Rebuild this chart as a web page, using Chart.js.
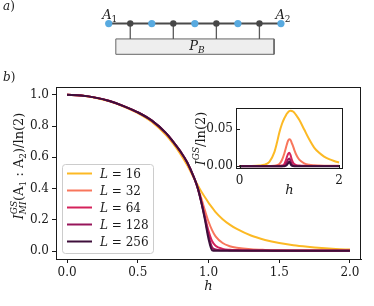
<!DOCTYPE html>
<html>
<head>
<meta charset="utf-8">
<script src="https://cdn.jsdelivr.net/npm/chart.js@4/dist/chart.umd.min.js"></script>
<style>
  html, body { margin: 0; padding: 0; background: #fff; }
  #wrap { position: relative; width: 374px; height: 306px; overflow: hidden; }
  canvas { position: absolute; }
</style>
</head>
<body>
<div id="wrap">
  <canvas id="main" width="374" height="306" style="left:0;top:0"></canvas>
  <canvas id="sketch" width="374" height="66" style="left:0;top:0"></canvas>
  <canvas id="inset" width="172" height="104" style="left:190px;top:96px"></canvas>
</div>
<script>
// ---- panel a) chain sketch ----
const sites = [0, 1, 2, 3, 4, 5, 6, 7, 8]
const coupledSites = [1, 3, 5, 7]
const bathX = [0.33, 7.68]
const bathY = [-1, -2]

// ---- panel b) main plot ----
const systemSizes = [16, 32, 64, 128, 256]
const hMain = [0, 0.1, 0.2, 0.3, 0.4, 0.5, 0.6, 0.7, 0.75, 0.8, 0.85, 0.9, 0.925, 0.95, 0.975, 1.0,
  1.025, 1.05, 1.1, 1.15, 1.2, 1.3, 1.4, 1.5, 1.6, 1.7, 1.8, 1.9, 2.0]
const miL16 = [1.0, 0.995, 0.981, 0.958, 0.925, 0.883, 0.826, 0.742, 0.687, 0.624, 0.55, 0.462, 0.42, 0.38, 0.345, 0.31,
  0.28, 0.25, 0.205, 0.17, 0.142, 0.1, 0.072, 0.052, 0.038, 0.028, 0.02, 0.014, 0.01]
const miL32 = [1.0, 0.995, 0.982, 0.96, 0.927, 0.887, 0.833, 0.752, 0.697, 0.636, 0.563, 0.462, 0.405, 0.335, 0.26, 0.19,
  0.135, 0.095, 0.052, 0.032, 0.022, 0.012, 0.008, 0.006, 0.005, 0.005, 0.004, 0.004, 0.004]
const miL64 = [1.0, 0.995, 0.982, 0.96, 0.928, 0.888, 0.835, 0.755, 0.70, 0.64, 0.567, 0.465, 0.40, 0.315, 0.22, 0.13,
  0.065, 0.035, 0.015, 0.009, 0.007, 0.005, 0.004, 0.004, 0.004, 0.004, 0.004, 0.004, 0.004]
const miL128 = [1.0, 0.995, 0.982, 0.96, 0.928, 0.888, 0.835, 0.755, 0.70, 0.64, 0.567, 0.465, 0.40, 0.31, 0.21, 0.10,
  0.025, 0.011, 0.006, 0.005, 0.004, 0.004, 0.004, 0.003, 0.003, 0.003, 0.003, 0.003, 0.003]
const miL256 = [1.0, 0.995, 0.982, 0.96, 0.928, 0.888, 0.835, 0.755, 0.70, 0.64, 0.567, 0.465, 0.40, 0.31, 0.20, 0.08,
  0.006, 0.003, 0.003, 0.003, 0.003, 0.003, 0.003, 0.003, 0.003, 0.003, 0.003, 0.003, 0.003]
const mainXTicks = [0, 0.5, 1.0, 1.5, 2.0]
const mainYTicks = [0, 0.2, 0.4, 0.6, 0.8, 1.0]

// ---- inset ----
const hInset = [0, 0.2, 0.4, 0.5, 0.6, 0.7, 0.75, 0.8, 0.85, 0.9, 0.925, 0.95, 0.975, 1.0, 1.025, 1.05, 1.075, 1.1,
  1.15, 1.2, 1.3, 1.4, 1.5, 1.6, 1.7, 1.8, 1.9, 2.0]
const gsL16 = [0.0004, 0.0005, 0.001, 0.002, 0.006, 0.019, 0.031, 0.045, 0.056, 0.064, 0.067, 0.070, 0.072, 0.0735,
  0.074, 0.0738, 0.073, 0.0715, 0.067, 0.062, 0.049, 0.036, 0.025, 0.018, 0.013, 0.0095, 0.007, 0.005]
const gsL32 = [0.0004, 0.0004, 0.0004, 0.0004, 0.0005, 0.0008, 0.0015, 0.003, 0.008, 0.017, 0.023, 0.029, 0.034, 0.036,
  0.035, 0.031, 0.027, 0.022, 0.014, 0.009, 0.004, 0.002, 0.0013, 0.001, 0.0008, 0.0007, 0.0006, 0.0006]
const gsL64 = [0.0003, 0.0003, 0.0003, 0.0003, 0.0003, 0.0004, 0.0005, 0.0007, 0.001, 0.003, 0.007, 0.012, 0.0165, 0.018,
  0.015, 0.009, 0.005, 0.003, 0.0015, 0.001, 0.0006, 0.0005, 0.0004, 0.0004, 0.0004, 0.0004, 0.0004, 0.0004]
const gsL128 = [0.0002, 0.0002, 0.0002, 0.0002, 0.0002, 0.0002, 0.0002, 0.0002, 0.0002, 0.0008, 0.002, 0.005, 0.009, 0.0105,
  0.007, 0.003, 0.0012, 0.0007, 0.0004, 0.0003, 0.0003, 0.0003, 0.0003, 0.0003, 0.0003, 0.0003, 0.0003, 0.0003]
const gsL256 = [0.0002, 0.0002, 0.0002, 0.0002, 0.0002, 0.0002, 0.0002, 0.0002, 0.0002, 0.0002, 0.0005, 0.0015, 0.004, 0.006,
  0.003, 0.0008, 0.0003, 0.0002, 0.0002, 0.0002, 0.0002, 0.0002, 0.0002, 0.0002, 0.0002, 0.0002, 0.0002, 0.0002]
const insetXTicks = [0, 2]
const insetYTicks = [0, 0.05]

const mainSeries = [miL16, miL32, miL64, miL128, miL256]
const insetSeries = [gsL16, gsL32, gsL64, gsL128, gsL256]
const lineColors = ["#fcb924", "#f8765c", "#d4225b", "#97155a", "#3e0f3b"]

const SERIF = '"DejaVu Serif", serif'
const INK = "#1a1a1a"

function font(size, italic) {
  return (italic ? "italic " : "") + size + "px " + SERIF
}

function toPoints(xs, ys) {
  return xs.map((x, i) => ({ x: x, y: ys[i] }))
}

// tiny math-ish text: parts are {t, it, size, dy} or {sup, sub, size, up, down}
function partWidth(ctx, p) {
  if (p.sup !== undefined) {
    ctx.font = font(p.size, true)
    return Math.max(ctx.measureText(p.sup).width, ctx.measureText(p.sub || "").width)
  }
  ctx.font = font(p.size, p.it)
  return ctx.measureText(p.t).width
}

function drawMath(ctx, parts, x, y, align) {
  const widths = parts.map(p => partWidth(ctx, p))
  const total = widths.reduce((a, b) => a + b, 0)
  let cx = align === "center" ? x - total / 2 : align === "right" ? x - total : x
  ctx.textAlign = "left"
  ctx.textBaseline = "alphabetic"
  parts.forEach((p, i) => {
    if (p.sup !== undefined) {
      ctx.font = font(p.size, true)
      ctx.fillText(p.sup, cx, y - p.up)
      if (p.sub) ctx.fillText(p.sub, cx, y + p.down)
    } else {
      ctx.font = font(p.size, p.it)
      ctx.fillText(p.t, cx, y + (p.dy || 0))
    }
    cx += widths[i]
  })
}

function fixedTicks(values) {
  return scale => { scale.ticks = values.map(v => ({ value: v })) }
}

// ---------------- sketch ----------------
const sketchText = {
  id: "sketchText",
  afterDatasetsDraw(chart) {
    const { ctx, scales: { x, y } } = chart
    ctx.save()
    ctx.fillStyle = INK
    const chainY = y.getPixelForValue(0)
    drawMath(ctx, [{ t: "A", it: true, size: 13 }, { t: "1", size: 9, dy: 3 }],
      x.getPixelForValue(sites[0]) + 1, chainY - 5, "center")
    drawMath(ctx, [{ t: "A", it: true, size: 13 }, { t: "2", size: 9, dy: 3 }],
      x.getPixelForValue(sites[sites.length - 1]) + 2, chainY - 5, "center")
    const bx = x.getPixelForValue((bathX[0] + bathX[1]) / 2)
    const by = y.getPixelForValue((bathY[0] + bathY[1]) / 2)
    drawMath(ctx, [{ t: "P", it: true, size: 13 }, { t: "B", it: true, size: 9, dy: 3 }], bx + 2, by + 3, "center")
    drawMath(ctx, [{ t: "a", it: true, size: 12 }, { t: ")", size: 12 }], 3, 10, "left")
    ctx.restore()
  }
}

const legY = bathY[0]
new Chart(document.getElementById("sketch"), {
  type: "scatter",
  data: {
    datasets: [
      {
        data: sites.filter(s => !coupledSites.includes(s)).map(s => ({ x: s, y: 0 })),
        pointRadius: 3.6, backgroundColor: "#58aae0", borderWidth: 0
      },
      {
        data: coupledSites.map(s => ({ x: s, y: 0 })),
        pointRadius: 3.2, backgroundColor: "#474747", borderWidth: 0
      },
      {
        data: sites.map(s => ({ x: s, y: 0 })),
        showLine: true, borderColor: "#4a4a4a", borderWidth: 2, pointRadius: 0
      },
      {
        data: coupledSites.flatMap(s => [{ x: s, y: 0 }, { x: s, y: legY }, { x: s, y: null }]),
        showLine: true, spanGaps: false, borderColor: "#5a5a5a", borderWidth: 1.3, pointRadius: 0
      },
      {
        data: [
          { x: bathX[0], y: bathY[0] }, { x: bathX[1], y: bathY[0] }, { x: bathX[1], y: bathY[1] },
          { x: bathX[0], y: bathY[1] }, { x: bathX[0], y: bathY[0] }
        ],
        showLine: true, fill: "shape", backgroundColor: "#eeeeee", borderColor: "#666666",
        borderWidth: 1, pointRadius: 0
      }
    ]
  },
  options: {
    responsive: false,
    animation: false,
    layout: { padding: 0 },
    plugins: { legend: { display: false }, tooltip: { enabled: false } },
    scales: {
      x: { type: "linear", display: false, min: -4.864, max: 12.136 },
      y: { type: "linear", display: false, min: -2.5, max: 1.27 }
    }
  },
  plugins: [sketchText]
})

// ---------------- main plot ----------------
const mainDecor = {
  id: "mainDecor",
  afterDraw(chart) {
    const { ctx, chartArea: a } = chart
    ctx.save()
    // full frame
    ctx.strokeStyle = INK
    ctx.lineWidth = 1
    ctx.strokeRect(Math.round(a.left) + 0.5, Math.round(a.top) + 0.5,
      Math.round(a.right - a.left) - 1, Math.round(a.bottom - a.top))

    // legend box (lower left, inside axes)
    const lx = a.left + 6, rowH = 17, boxW = 91, boxH = 89
    const ly = a.bottom - 6 - boxH
    ctx.fillStyle = "rgba(255,255,255,0.85)"
    ctx.strokeStyle = "#cccccc"
    ctx.beginPath()
    ctx.roundRect(lx + 0.5, ly + 0.5, boxW, boxH, 3)
    ctx.fill()
    ctx.stroke()
    chart.data.datasets.forEach((ds, i) => {
      const ry = ly + 9.5 + i * rowH
      ctx.strokeStyle = ds.borderColor
      ctx.lineWidth = 2
      ctx.beginPath()
      ctx.moveTo(lx + 5, ry)
      ctx.lineTo(lx + 30, ry)
      ctx.stroke()
      ctx.fillStyle = INK
      drawMath(ctx, [{ t: "L", it: true, size: 12 }, { t: " = " + systemSizes[i], size: 12 }], lx + 38, ry + 4.5, "left")
    })

    // axis labels
    ctx.fillStyle = INK
    drawMath(ctx, [{ t: "h", it: true, size: 13 }], (a.left + a.right) / 2, 290, "center")
    ctx.save()
    ctx.translate(19, 166)
    ctx.rotate(-Math.PI / 2)
    drawMath(ctx, [
      { t: "I", it: true, size: 13 },
      { sup: "GS", sub: "MI", size: 9, up: 6, down: 3 },
      { t: "(A", size: 13 },
      { t: "1", size: 9, dy: 3 },
      { t: " : A", size: 13 },
      { t: "2", size: 9, dy: 3 },
      { t: ")/ln(2)", size: 13 }
    ], 0, 4, "center")
    ctx.restore()

    drawMath(ctx, [{ t: "b", it: true, size: 12 }, { t: ")", size: 12 }], 3, 81, "left")
    ctx.restore()
  }
}

new Chart(document.getElementById("main"), {
  type: "line",
  data: {
    datasets: systemSizes.map((L, i) => ({
      label: "L = " + L,
      data: toPoints(hMain, mainSeries[i]),
      borderColor: lineColors[i],
      borderWidth: 2,
      pointRadius: 0,
      cubicInterpolationMode: "monotone",
      order: systemSizes.length - i
    }))
  },
  options: {
    responsive: false,
    animation: false,
    layout: { padding: { top: 87, right: 13, left: 0, bottom: 0 } },
    plugins: { legend: { display: false }, tooltip: { enabled: false } },
    scales: {
      x: {
        type: "linear",
        min: -0.078,
        max: 2.078,
        afterBuildTicks: fixedTicks(mainXTicks),
        afterFit: s => { s.height = 47 },
        ticks: {
          callback: v => v.toFixed(1), padding: 3, color: INK, maxRotation: 0, autoSkip: false,
          font: { family: SERIF, size: 12 }
        },
        grid: { drawOnChartArea: false, tickLength: 4, color: INK },
        border: { color: INK }
      },
      y: {
        type: "linear",
        min: -0.05,
        max: 1.05,
        afterBuildTicks: fixedTicks(mainYTicks),
        afterFit: s => { s.width = 56 },
        ticks: {
          callback: v => v.toFixed(1), padding: 3, color: INK, autoSkip: false,
          font: { family: SERIF, size: 12 }
        },
        grid: { drawOnChartArea: false, tickLength: 4, color: INK },
        border: { color: INK }
      }
    }
  },
  plugins: [mainDecor]
})

// ---------------- inset ----------------
const insetDecor = {
  id: "insetDecor",
  beforeDatasetsDraw(chart) {
    const { ctx, chartArea: a } = chart
    ctx.save()
    ctx.fillStyle = "#ffffff"
    ctx.fillRect(a.left, a.top, a.right - a.left, a.bottom - a.top)
    ctx.restore()
  },
  afterDraw(chart) {
    const { ctx, chartArea: a, scales: { x, y } } = chart
    ctx.save()
    ctx.strokeStyle = INK
    ctx.lineWidth = 1
    ctx.strokeRect(Math.round(a.left) + 0.5, Math.round(a.top) + 0.5,
      Math.round(a.right - a.left) - 1, Math.round(a.bottom - a.top) - 1)
    // inward ticks
    ctx.beginPath()
    x.ticks.forEach(t => {
      const px = Math.round(x.getPixelForValue(t.value)) + 0.5
      ctx.moveTo(px, a.bottom)
      ctx.lineTo(px, a.bottom - 4)
    })
    y.ticks.forEach(t => {
      const py = Math.round(y.getPixelForValue(t.value)) + 0.5
      ctx.moveTo(a.left, py)
      ctx.lineTo(a.left + 4, py)
    })
    ctx.stroke()

    ctx.fillStyle = INK
    drawMath(ctx, [{ t: "h", it: true, size: 13 }], (a.left + a.right) / 2, 98, "center")
    ctx.save()
    ctx.translate(11, (a.top + a.bottom) / 2)
    ctx.rotate(-Math.PI / 2)
    drawMath(ctx, [
      { t: "I", it: true, size: 13 },
      { sup: "GS", size: 9, up: 6 },
      { t: "/ln(2)", size: 13 }
    ], 0, 4, "center")
    ctx.restore()
    ctx.restore()
  }
}

new Chart(document.getElementById("inset"), {
  type: "line",
  data: {
    datasets: systemSizes.map((L, i) => ({
      label: "L = " + L,
      data: toPoints(hInset, insetSeries[i]),
      borderColor: lineColors[i],
      borderWidth: 2,
      pointRadius: 0,
      cubicInterpolationMode: "monotone",
      order: systemSizes.length - i
    }))
  },
  options: {
    responsive: false,
    animation: false,
    layout: { padding: { top: 12, right: 19, left: 0, bottom: 0 } },
    plugins: { legend: { display: false }, tooltip: { enabled: false } },
    scales: {
      x: {
        type: "linear",
        min: -0.072,
        max: 2.08,
        afterBuildTicks: fixedTicks(insetXTicks),
        afterFit: s => { s.height = 31 },
        ticks: {
          callback: v => v.toFixed(0), padding: 5, color: INK, maxRotation: 0, autoSkip: false,
          font: { family: SERIF, size: 12 }
        },
        grid: { drawOnChartArea: false, drawTicks: false },
        border: { display: false }
      },
      y: {
        type: "linear",
        min: -0.0036,
        max: 0.0777,
        afterBuildTicks: fixedTicks(insetYTicks),
        afterFit: s => { s.width = 46 },
        ticks: {
          callback: v => v.toFixed(2), padding: 3, color: INK, autoSkip: false,
          font: { family: SERIF, size: 12 }
        },
        grid: { drawOnChartArea: false, drawTicks: false },
        border: { display: false }
      }
    }
  },
  plugins: [insetDecor]
})
</script>
</body>
</html>
